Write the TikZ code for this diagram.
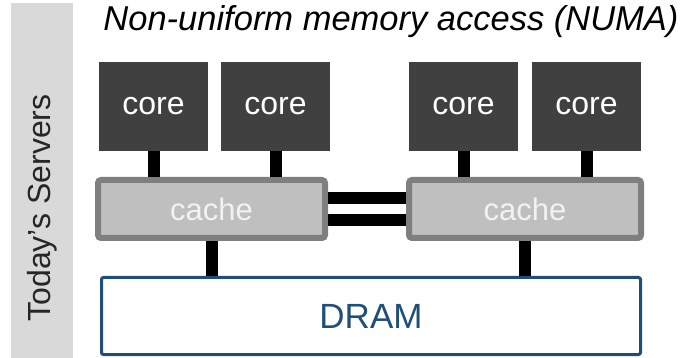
\documentclass[tikz,border=0pt]{standalone}
\usepackage{fontspec}
\setmainfont{Liberation Sans}
\usetikzlibrary{positioning}

\definecolor{coregray}{RGB}{64,64,64}
\definecolor{cacheedge}{RGB}{127,127,127}
\definecolor{cachefill}{RGB}{191,191,191}
\definecolor{cachetext}{RGB}{242,242,242}
\definecolor{barfill}{RGB}{217,217,217}
\definecolor{dramblue}{RGB}{31,78,121}

\begin{document}
\begin{tikzpicture}[x=1pt,y=-1pt,on grid,auto]
  \tikzset{core/.style={rectangle, fill=coregray, text=white, minimum width=109pt,
                        minimum height=89pt, inner sep=0pt, font=\fontsize{32}{38}\selectfont},
           cache/.style={rectangle, rounded corners=3pt, draw=cacheedge, line width=6pt,
                         fill=cachefill, text=cachetext, minimum height=58pt,
                         inner sep=0pt, font=\fontsize{31}{37}\selectfont},
           dram/.style={rectangle, rounded corners=2pt, draw=dramblue, line width=3pt,
                        text=dramblue, minimum width=539pt, minimum height=77pt,
                        font=\fontsize{35}{42}\selectfont},
           link/.style={draw=black, line width=12pt}}
  \useasboundingbox (0,0) rectangle (686,358);

  \node[fill=barfill, minimum width=62pt, minimum height=355pt, inner sep=0pt]
                                     (bar)    at (42,180.5) {};
  \node[rotate=90, text=black!85, font=\fontsize{32}{38}\selectfont]
                                     (side)   at (42,208)   {Today’s Servers};
  \node[anchor=base, font=\itshape\fontsize{34.5}{41}\selectfont]
                                     (title)  at (391,31)   {Non-uniform memory access (NUMA)};

  \node[core]                        (core_0) at (153.5,106.5) {core};
  \node[core]                        (core_1) [right = 122pt of core_0] {core};
  \node[core]                        (core_2) at (463.5,106.5) {core};
  \node[core]                        (core_3) [right = 123pt of core_2] {core};

  \node[cache, minimum width=227pt]  (cache_0) at (211.5,209) {cache};
  \node[cache, minimum width=232pt]  (cache_1) at (525,209)   {cache};

  \node[dram]                        (dram)   at (371,316)  {DRAM};

  % links
  \path[link]
    (core_0.south) -- (core_0.south |- cache_0.north)
    (core_1.south) -- (core_1.south |- cache_0.north)
    (core_2.south) -- (core_2.south |- cache_1.north)
    (core_3.south) -- (core_3.south |- cache_1.north)
    ([yshift=11pt]cache_0.east) -- ([yshift=11pt]cache_1.west)
    ([yshift=-11pt]cache_0.east) -- ([yshift=-11pt]cache_1.west)
    (cache_0.south) -- (cache_0.south |- dram.north)
    (cache_1.south) -- (cache_1.south |- dram.north);
\end{tikzpicture}
\end{document}
